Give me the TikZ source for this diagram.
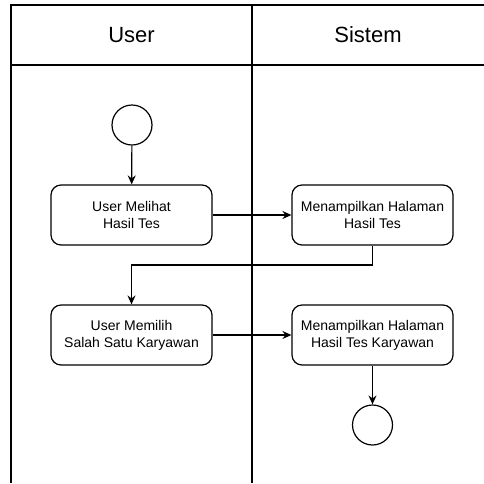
\documentclass[tikz,border=0pt]{standalone}
\usepackage{fontspec}
\setmainfont{Liberation Sans}
\usetikzlibrary{arrows.meta}
\begin{document}
\begin{tikzpicture}[x=1pt,y=-1pt,
  lane/.style={line width=1.4pt},
  act/.style={draw,line width=1.2pt,rounded corners=10pt,minimum width=161pt,minimum height=60pt,
    align=center,inner sep=0pt,font=\fontsize{14}{17}\selectfont},
  term/.style={draw,line width=1.2pt,circle,minimum size=40pt,inner sep=0pt},
  flow/.style={line width=1.2pt,-{Stealth[length=9pt,width=8pt,inset=3pt]}},
  head/.style={font=\fontsize{22}{26}\selectfont}]
\useasboundingbox (0,0) rectangle (484,483);
% swimlanes
\draw[lane] (11,483) -- (11,5) -- (484,5);
\draw[lane] (11,65) -- (484,65);
\draw[lane] (252,5) -- (252,483);
\node[head] (hu) at (131.5,35) {User};
\node[head] (hs) at (368,35) {Sistem};
% nodes
\node[term] (start) at (132,125) {};
\node[act] (a1) at (131.5,215) {User Melihat\\Hasil Tes};
\node[act] (a2) at (372.5,215) {Menampilkan Halaman\\Hasil Tes};
\node[act] (a3) at (131.5,335) {User Memilih\\Salah Satu Karyawan};
\node[act] (a4) at (372.5,335) {Menampilkan Halaman\\Hasil Tes Karyawan};
\node[term] (end) at (372.5,425) {};
\coordinate (j1) at (372.5,265);
\coordinate (j2) at (131.5,265);
% connectors
\draw[flow] (start) -- (a1);
\draw[flow] (a1) -- (a2);
\draw[flow] (a2.south) -- (j1) -- (j2) -- (a3.north);
\draw[flow] (a3) -- (a4);
\draw[flow] (a4) -- (end);
\end{tikzpicture}
\end{document}
